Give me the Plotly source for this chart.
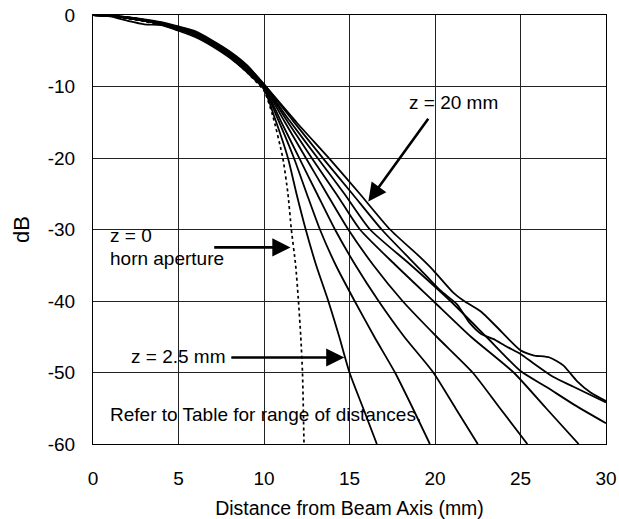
import plotly.graph_objects as go

# ---------------- data ----------------
x_z0 = [0, 1, 2, 3, 4, 5, 6, 7, 8, 9, 10, 10.5, 11.1, 11.4, 11.6, 11.85, 12.0, 12.15, 12.25, 12.34]
y_z0 = [0, -0.1, -0.5, -0.9, -1.4, -2.1, -3.0, -4.3, -5.9, -8.0, -10.6, -14, -20, -25, -30, -35, -39.5, -45, -50, -60]

x_z2_5 = [0, 1, 2, 3, 4, 5, 6, 7, 8, 9, 10, 10.6, 11.4, 11.9, 12.44, 13.05, 13.76, 14.4, 15.0, 15.8, 16.6]
y_z2_5 = [0, -0.2, -0.8, -1.3, -1.4, -2.2, -3.1, -4.4, -6.0, -8.0, -10.4, -14.2, -20, -25, -30, -35, -40, -45, -50, -55, -60]

x_z5 = [0, 1, 2, 3, 4, 5, 6, 7, 8, 9, 10, 10.8, 11.75, 12.5, 13.27, 14.2, 15.3, 16.45, 17.66, 18.7, 19.7]
y_z5 = [0, -0.1, -0.4, -0.8, -1.3, -2.0, -2.9, -4.2, -5.8, -7.8, -10.2, -14.5, -20, -25, -30, -35, -40, -45, -50, -55, -60]

x_z7_5 = [0, 1, 2, 3, 4, 5, 6, 7, 8, 9, 10, 11.0, 12.1, 13.1, 14.15, 15.35, 16.7, 18.2, 19.9, 21.2, 22.5]
y_z7_5 = [0, -0.1, -0.4, -0.8, -1.2, -1.9, -2.8, -4.1, -5.7, -7.6, -10.1, -14.9, -20.2, -25, -30, -35, -40, -45, -50, -55, -60]

x_z10 = [0, 1, 2, 3, 4, 5, 6, 7, 8, 9, 10, 11.2, 12.5, 13.7, 14.93, 16.4, 18.1, 20.1, 22.2, 23.8, 25.4]
y_z10 = [0, -0.1, -0.4, -0.8, -1.2, -1.9, -2.7, -4.0, -5.5, -7.5, -10.0, -14.9, -20.2, -25.1, -30, -35, -40, -45, -50, -55, -60]

x_z12_5 = [0, 1, 2, 3, 4, 5, 6, 7, 8, 9, 10, 11.4, 12.85, 14.25, 15.61, 17.7, 19.9, 22.1, 24.6, 26.5, 28.4]
y_z12_5 = [0, -0.1, -0.4, -0.8, -1.2, -1.8, -2.6, -3.9, -5.4, -7.3, -9.9, -15, -20.2, -25.1, -30, -35, -40, -45, -50, -55, -60]

x_z15 = [0, 1, 2, 3, 4, 5, 6, 7, 8, 9, 10, 11.5, 13.2, 14.7, 16.2, 18.6, 20.9, 23.0, 25.0, 26.5, 28.2, 30]
y_z15 = [0, -0.1, -0.3, -0.7, -1.1, -1.8, -2.5, -3.8, -5.3, -7.2, -9.8, -14.8, -20.2, -25, -30, -35, -40, -45, -49.8, -52, -54.6, -57.1]

x_z17_5 = [0, 1, 2, 3, 4, 5, 6, 7, 8, 9, 10, 11.7, 13.5, 15.2, 16.88, 19.1, 20.3, 21.3, 22.0, 22.7, 23.4, 24.2, 25.0, 25.75, 26.9, 28.1, 30]
y_z17_5 = [0, -0.1, -0.3, -0.7, -1.1, -1.7, -2.4, -3.7, -5.2, -7.1, -9.7, -14.8, -20.2, -25.1, -30, -35.5, -38.5, -40.5, -43.0, -44.6, -45.3, -46.4, -47.4, -48.7, -50.6, -52.0, -54.2]

x_z20 = [0, 1, 2, 3, 4, 5, 6, 7, 8, 9, 10, 11.9, 13.9, 15.6, 17.37, 19.1, 19.9, 21.1, 21.7, 22.7, 23.6, 25.0, 25.75, 26.7, 27.5, 28.3, 29.1, 30]
y_z20 = [0, -0.1, -0.3, -0.6, -1.0, -1.6, -2.3, -3.6, -5.1, -7.0, -9.7, -15, -20.3, -25, -30, -33.8, -35.7, -38.9, -40, -41.5, -43.6, -46.9, -47.6, -47.9, -49.0, -51.2, -52.8, -54.0]

x_tick_vals = [0, 5, 10, 15, 20, 25, 30]
x_tick_text = ["0", "5", "10", "15", "20", "25", "30"]
y_tick_vals = [0, -10, -20, -30, -40, -50, -60]
y_tick_text = ["0", "-10", "-20", "-30", "-40", "-50", "-60"]

solid_curves = [
    ("z = 2.5 mm", x_z2_5, y_z2_5),
    ("z = 5 mm", x_z5, y_z5),
    ("z = 7.5 mm", x_z7_5, y_z7_5),
    ("z = 10 mm", x_z10, y_z10),
    ("z = 12.5 mm", x_z12_5, y_z12_5),
    ("z = 15 mm", x_z15, y_z15),
    ("z = 17.5 mm", x_z17_5, y_z17_5),
    ("z = 20 mm", x_z20, y_z20),
]

FONT = "Liberation Sans, Arial, Helvetica, sans-serif"

fig = go.Figure()
fig.add_trace(go.Scatter(x=x_z0, y=y_z0, mode="lines", name="z = 0",
                         line=dict(color="black", width=1.7, dash="dot", shape="spline", smoothing=0.6),
                         showlegend=False))
for name, xs, ys in solid_curves:
    fig.add_trace(go.Scatter(x=xs, y=ys, mode="lines", name=name,
                             line=dict(color="black", width=1.8, shape="spline", smoothing=0.6),
                             showlegend=False))

annotations = [
    dict(x=21.1, y=-12.3, text="z = 20 mm", showarrow=False, xanchor="center", yanchor="middle"),
    dict(x=16.1, y=-26.1, ax=19.67, ay=-14.3, axref="x", ayref="y", text="", showarrow=True,
         arrowhead=2, arrowsize=1.4, arrowwidth=2.6, arrowcolor="black"),
    dict(x=0.88, y=-30.9, text="z = 0", showarrow=False, xanchor="left", yanchor="middle"),
    dict(x=0.88, y=-34.0, text="horn aperture", showarrow=False, xanchor="left", yanchor="middle"),
    dict(x=11.55, y=-32.5, ax=7.0, ay=-32.5, axref="x", ayref="y", text="", showarrow=True,
         arrowhead=2, arrowsize=1.4, arrowwidth=2.6, arrowcolor="black"),
    dict(x=2.1, y=-47.8, text="z = 2.5 mm", showarrow=False, xanchor="left", yanchor="middle"),
    dict(x=14.7, y=-47.9, ax=8.0, ay=-47.9, axref="x", ayref="y", text="", showarrow=True,
         arrowhead=2, arrowsize=1.4, arrowwidth=2.6, arrowcolor="black"),
    dict(x=0.88, y=-55.9, text="Refer to Table for range of distances.", showarrow=False,
         xanchor="left", yanchor="middle"),
]

fig.update_layout(
    width=619, height=519,
    margin=dict(l=93, r=13, t=15, b=75),
    paper_bgcolor="white", plot_bgcolor="white",
    font=dict(family=FONT, size=19, color="black"),
    annotations=[dict(a, xref="x", yref="y", font=dict(family=FONT, size=19, color="black")) for a in annotations],
    xaxis=dict(range=[0, 30], tickvals=x_tick_vals, ticktext=x_tick_text,
               showgrid=True, gridcolor="#222222", gridwidth=1,
               showline=True, mirror=True, linecolor="black", linewidth=1,
               zeroline=False, ticks="", ticklabelstandoff=17, automargin=False,
               tickfont=dict(family=FONT, size=19),
               title=dict(text="Distance from Beam Axis (mm)", standoff=18,
                          font=dict(family=FONT, size=19.5))),
    yaxis=dict(range=[-60, 0], tickvals=y_tick_vals, ticktext=y_tick_text,
               showgrid=True, gridcolor="#222222", gridwidth=1,
               showline=True, mirror=True, linecolor="black", linewidth=1,
               zeroline=False, ticks="", ticklabelstandoff=13, automargin=False,
               tickfont=dict(family=FONT, size=19),
               title=dict(text="dB", standoff=12, font=dict(family=FONT, size=22))),
)

fig.write_html("out.html")
